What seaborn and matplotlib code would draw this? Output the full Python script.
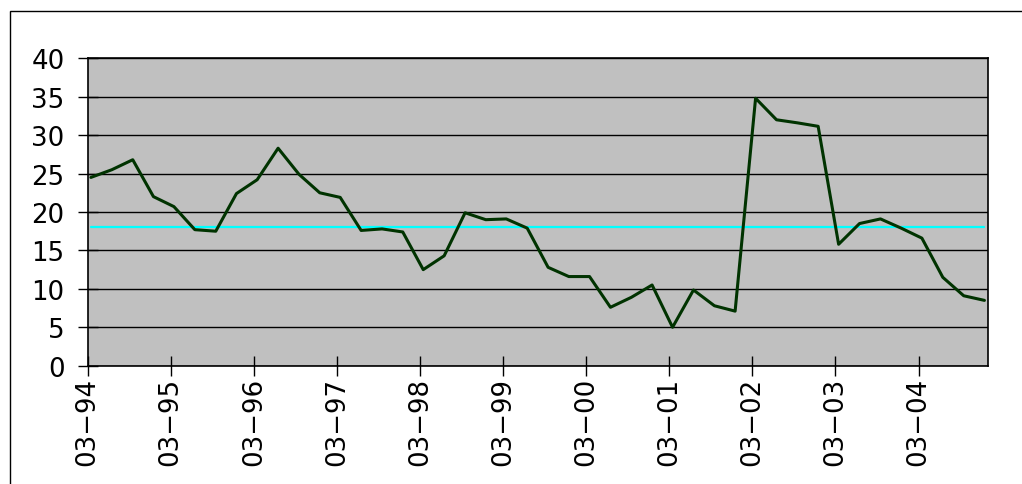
import matplotlib
matplotlib.use("Agg")
import matplotlib.pyplot as plt
import matplotlib.dates as mdates
from matplotlib.patches import Rectangle
import seaborn as sns
import pandas as pd

# ---- data ----
start_date = "1994-03-15"
values = [24.5, 25.5, 26.8, 22.0, 20.7, 17.7, 17.5, 22.4, 24.2, 28.3,
          24.9, 22.5, 21.9, 17.6, 17.8, 17.4, 12.5, 14.3, 19.9, 19.0,
          19.1, 17.9, 12.8, 11.6, 11.6, 7.6, 8.9, 10.5, 5.0, 9.85,
          7.8, 7.1, 34.8, 32.0, 31.6, 31.15, 15.8, 18.5, 19.1, 17.9,
          16.6, 11.5, 9.1, 8.5]
average = 18.0
y_ticks = [0, 5, 10, 15, 20, 25, 30, 35, 40]

dates = pd.date_range(start_date, periods=len(values), freq=pd.DateOffset(months=3))
df = pd.DataFrame({"date": dates, "value": values})
avg_df = pd.DataFrame({"date": [dates[0], dates[-1]], "value": [average, average]})

sns.set_style("white", {"axes.facecolor": "#C0C0C0", "axes.edgecolor": "black",
                        "xtick.bottom": True, "ytick.left": True})
plt.rcParams["font.family"] = ["DejaVu Sans"]

fig = plt.figure(figsize=(10.22, 4.85), dpi=100)
ax = fig.add_axes([87.7 / 1022, 1 - 366.7 / 485, (988.3 - 87.7) / 1022, (366.7 - 59.3) / 485])

ax.yaxis.grid(True, color="black", lw=1.0, zorder=0)
ax.set_axisbelow(True)

sns.lineplot(data=avg_df, x="date", y="value", color="#00FFFF", lw=1.6, ax=ax, zorder=2)
sns.lineplot(data=df, x="date", y="value", color="#003300", lw=2.2, ax=ax, zorder=3)

ax.set_ylim(0, 40)
ax.set_yticks(y_ticks)
ax.set_xlim(pd.Timestamp("1994-03-01"), pd.Timestamp("2005-01-01"))
ax.xaxis.set_major_locator(mdates.YearLocator(base=1, month=3, day=1))
ax.xaxis.set_major_formatter(mdates.DateFormatter("%m\u2212%y"))

ax.set_xlabel("")
ax.set_ylabel("")
ax.tick_params(axis="both", which="major", bottom=True, left=True, direction="inout",
               length=14.4, width=1, color="black", labelsize=18.7, labelcolor="black")
ax.tick_params(axis="y", pad=9.4)
ax.tick_params(axis="x", pad=0.8)
for lbl in ax.get_xticklabels():
    lbl.set_rotation(90)

for s in ax.spines.values():
    s.set_visible(True)
    s.set_color("black")
    s.set_linewidth(1.2)

# outer border of the chart area
fig.add_artist(Rectangle((9.5 / 1022, -0.1), 1.2, 1 - 12.3 / 485 + 0.1,
                         transform=fig.transFigure, fill=False, edgecolor="black", lw=1.0))

fig.savefig("out.png", dpi=100)
